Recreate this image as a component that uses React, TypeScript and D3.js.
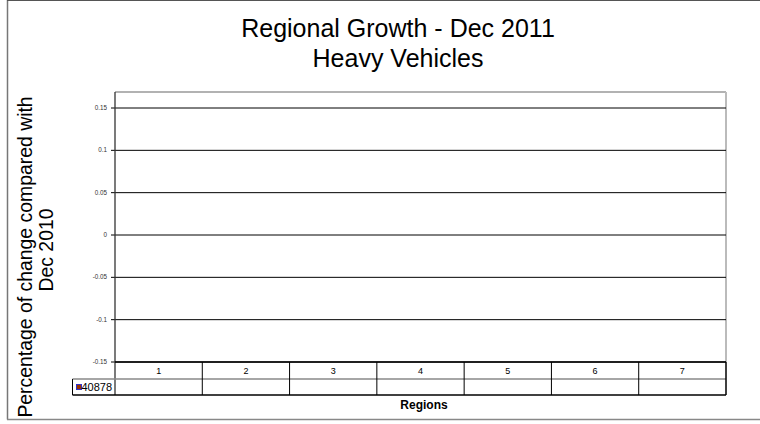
import React from "react";
import * as d3 from "d3";

const categories = ["1", "2", "3", "4", "5", "6", "7"];
const seriesName = "40878";
const seriesValues: (number | null)[] = [null, null, null, null, null, null, null];
const yTicks = [-0.15, -0.1, -0.05, 0, 0.05, 0.1, 0.15];
const titleLines = ["Regional Growth - Dec 2011", "Heavy Vehicles"];
const yTitleLines = ["Percentage of change compared with", "Dec 2010"];
const xTitle = "Regions";

export default function App() {
  const W = 760, H = 424;
  const left = 115, right = 726, plotTop = 92;
  const y = d3.scaleLinear().domain([-0.15, 0.15]).range([362, 108]);
  const x = d3.scaleBand().domain(categories).range([left, right]);
  const bottom = y(-0.15);
  const row1 = bottom + 17;
  const row2 = row1 + 16;
  const font = "'Liberation Sans', Arial, sans-serif";
  return (
    <svg width={W} height={H} style={{ position: "absolute", left: 0, top: 0, fontFamily: font }}>
      <rect x={0} y={0} width={W} height={H} fill="#fff" />
      <line x1={7.5} y1={0} x2={7.5} y2={419.5} stroke="#777" strokeWidth={1.5} />
      <line x1={7} y1={0.5} x2={W} y2={0.5} stroke="#555" strokeWidth={1.2} />
      <line x1={7} y1={419.5} x2={W} y2={419.5} stroke="#888" strokeWidth={1.5} />
      {titleLines.map((t, i) => (
        <text key={i} x={398} y={36.5 + i * 30.5} textAnchor="middle" fontSize={25} fill="#000">{t}</text>
      ))}
      <g transform={`rotate(-90)`}>
        {yTitleLines.map((t, i) => (
          <text key={i} x={i === 0 ? -257 : -250} y={32 + i * 21} textAnchor="middle" fontSize={19.4} fill="#000">{t}</text>
        ))}
      </g>
      {/* plot area frame */}
      <line x1={left} y1={plotTop} x2={right} y2={plotTop} stroke="#999" strokeWidth={1.5} />
      <line x1={right} y1={plotTop} x2={right} y2={bottom} stroke="#bbb" strokeWidth={2} />
      {yTicks.map((t) => (
        <g key={t}>
          <line x1={left} x2={right} y1={y(t)} y2={y(t)} stroke="#000" strokeWidth={1} />
          <line x1={left - 4} x2={left} y1={y(t)} y2={y(t)} stroke="#000" strokeWidth={1} />
          <text x={107} y={y(t) + 2} textAnchor="end" fontSize={6.3} fill="#333">{String(t)}</text>
        </g>
      ))}
      {seriesValues.map((v, i) =>
        v == null ? null : (
          <rect key={i} x={x(categories[i])! + 20} width={x.bandwidth() - 40} y={Math.min(y(v), y(0))} height={Math.abs(y(v) - y(0))} fill="#993300" stroke="#3333cc" />
        )
      )}
      <line x1={left} x2={left} y1={plotTop} y2={row2} stroke="#333" strokeWidth={1.3} />
      {/* data table */}
      <line x1={left} x2={right} y1={bottom} y2={bottom} stroke="#000" strokeWidth={1.3} />
      <line x1={72.5} x2={right} y1={row1} y2={row1} stroke="#888" strokeWidth={1.5} />
      <line x1={72.5} x2={right} y1={row2} y2={row2} stroke="#000" strokeWidth={1.3} />
      <line x1={72.5} x2={72.5} y1={row1} y2={row2} stroke="#000" strokeWidth={1} />
      <line x1={right} x2={right} y1={bottom} y2={row2} stroke="#000" strokeWidth={1.5} />
      {categories.map((c, i) => (
        <g key={c}>
          {i > 0 && <line x1={x(c)} x2={x(c)} y1={bottom} y2={row2} stroke="#000" strokeWidth={1} />}
          <text x={x(c)! + x.bandwidth() / 2} y={bottom + 12} textAnchor="middle" fontSize={9} fill="#000">{c}</text>
        </g>
      ))}
      <rect x={76.5} y={row1 + 5.5} width={5} height={5} fill="#993300" stroke="#3333cc" strokeWidth={1} />
      <text x={81.5} y={row1 + 12} fontSize={11} fill="#000">{seriesName}</text>
      <text x={424} y={409} textAnchor="middle" fontSize={12} fontWeight="bold" fill="#000">{xTitle}</text>
    </svg>
  );
}
